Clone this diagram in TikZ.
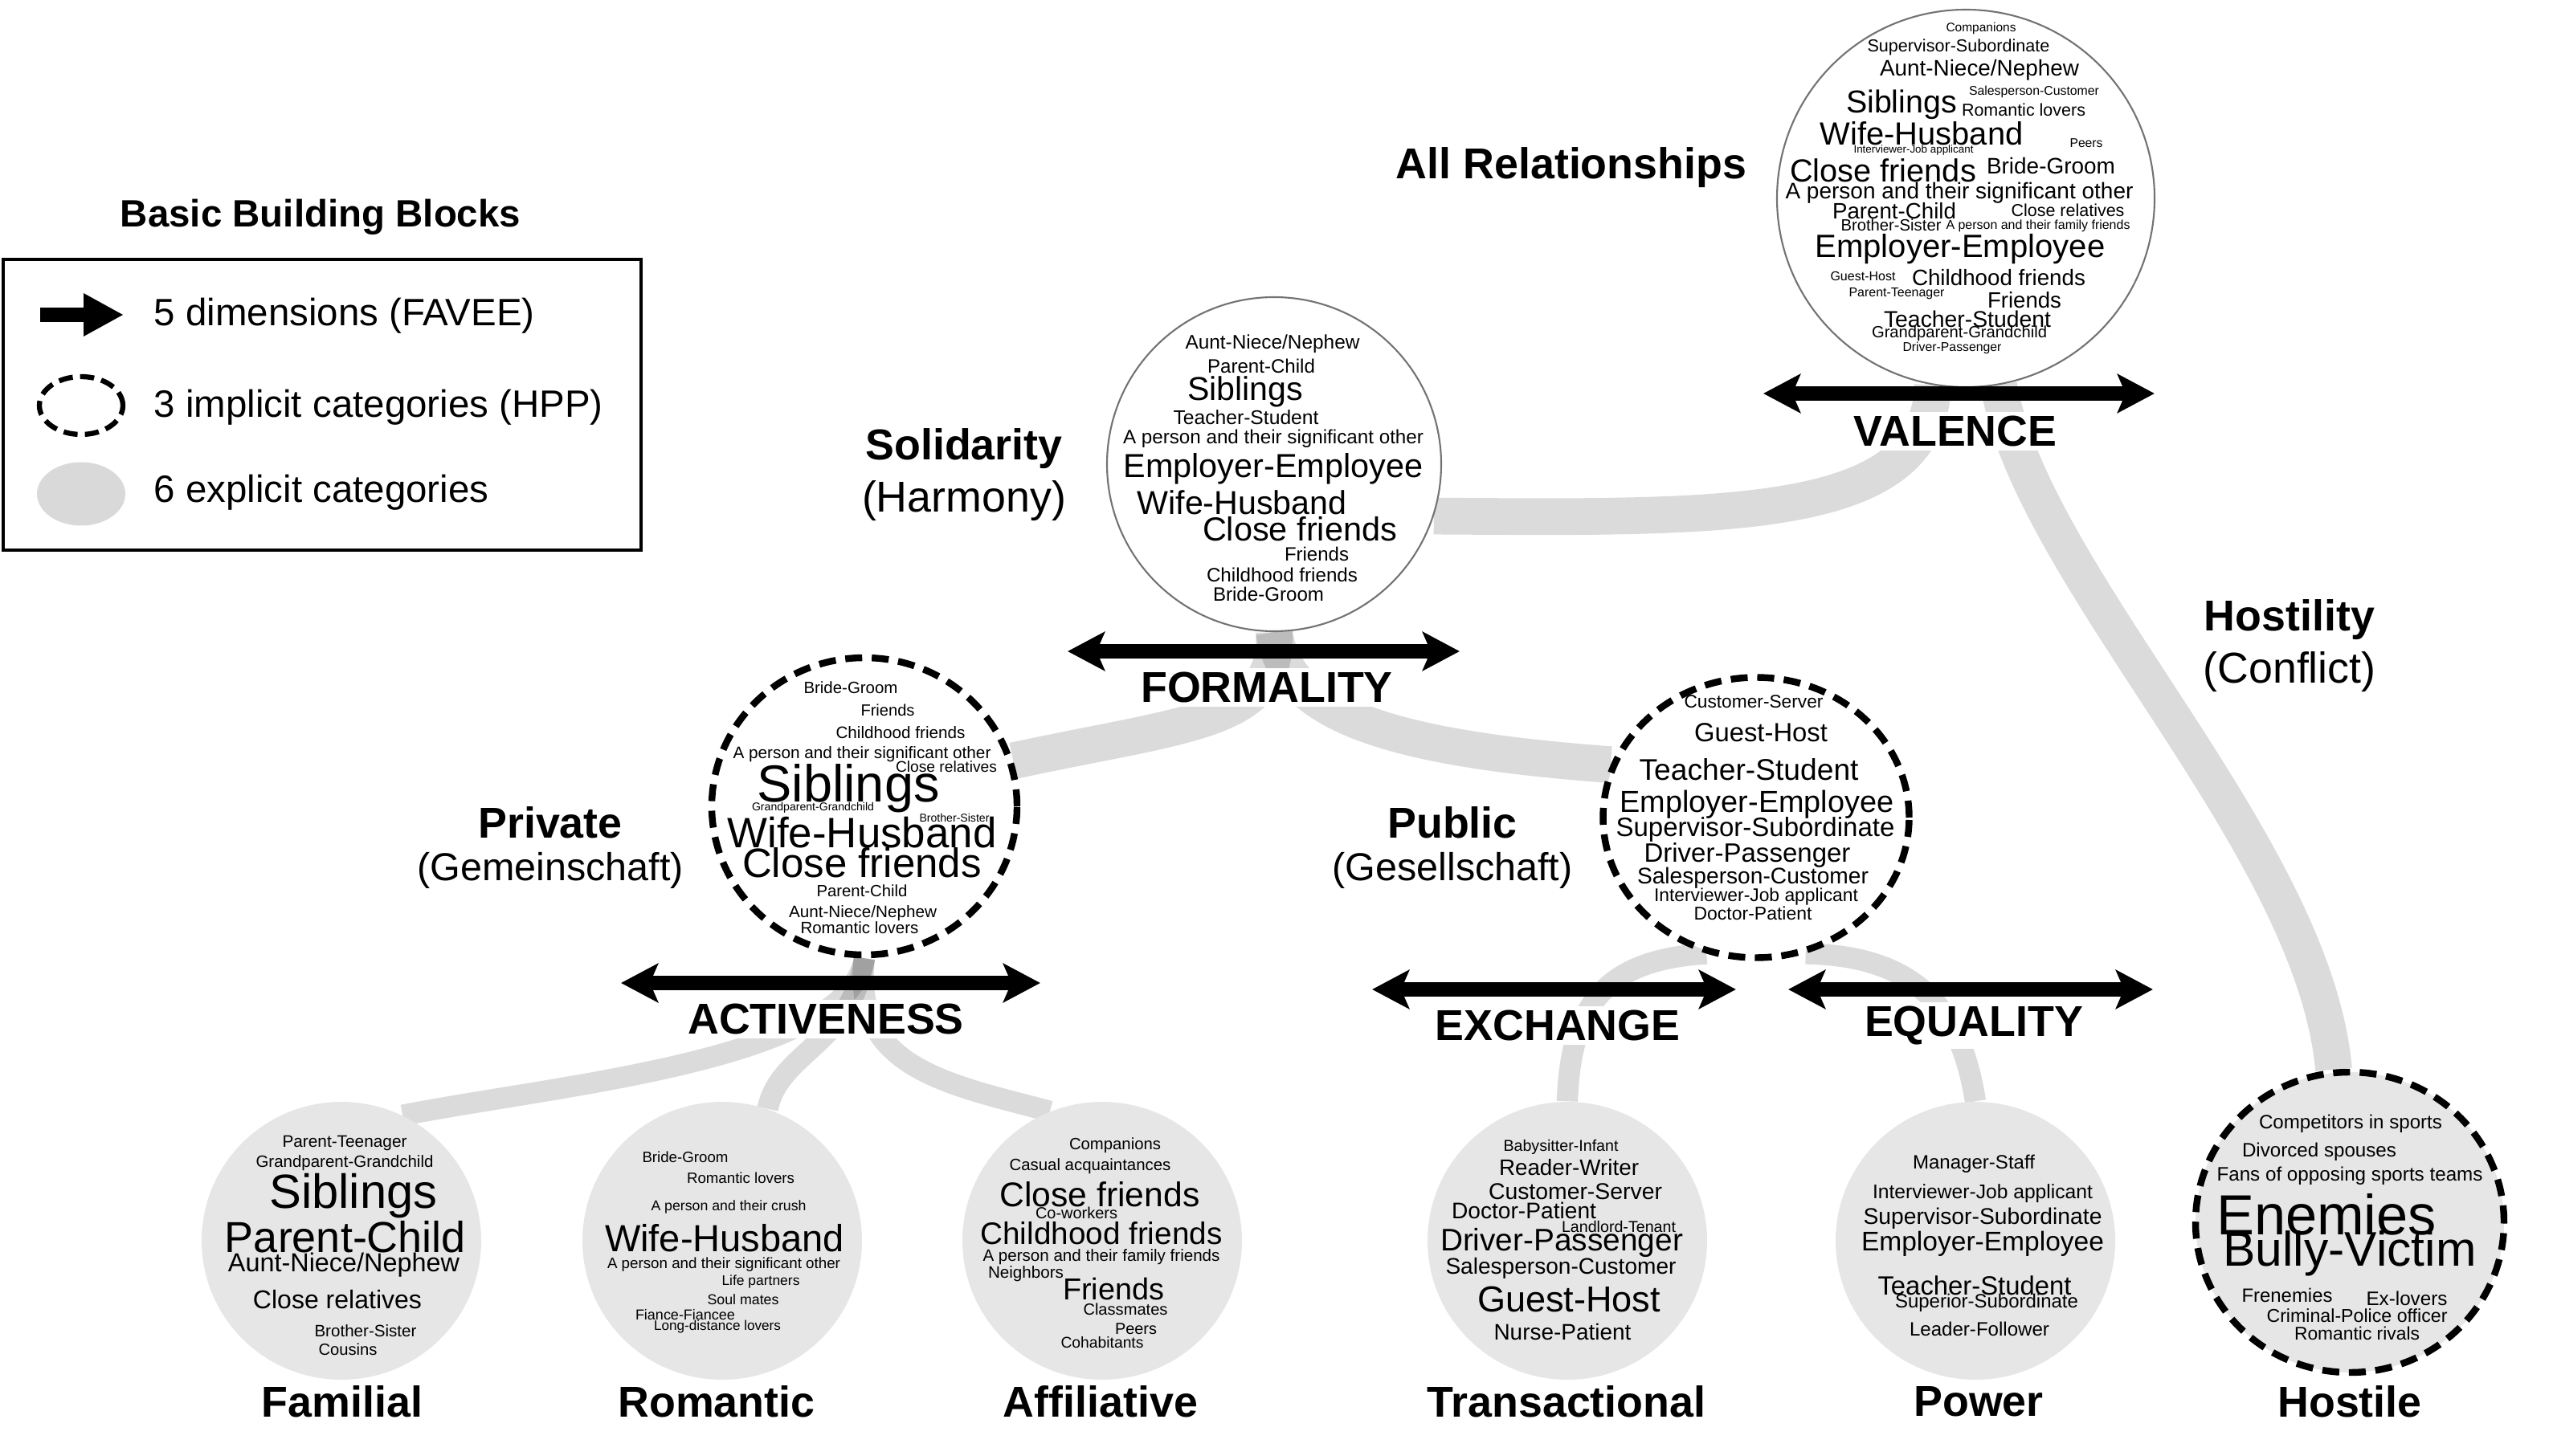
\documentclass[tikz,border=0pt]{standalone}
\usepackage{fontspec}
\setmainfont{Liberation Sans}
\usetikzlibrary{arrows.meta,shapes.geometric,backgrounds}
\definecolor{fillgray}{RGB}{230,230,230}
\definecolor{legendgray}{RGB}{217,217,217}

\begin{document}
\begin{tikzpicture}[
  band/.style={draw=black, draw opacity=0.14, line width=13pt},
  thinband/.style={band, line width=7.5pt},
  cloud/.style={circle, draw=black!55, line width=0.6pt, fill=white, inner sep=0pt},
  implicit/.style={ellipse, draw=black, line width=2.4pt, dash pattern=on 6pt off 3.4pt, fill=white, inner sep=0pt},
  explicit/.style={ellipse, fill=fillgray, inner sep=0pt, minimum width=3.48cm, minimum height=3.46cm},
  dimarrow/.style={line width=5pt, {Stealth[length=4.6mm,width=4.8mm,inset=1mm]}-{Stealth[length=4.6mm,width=4.8mm,inset=1mm]}},
  dimlabel/.style={font=\fontsize{15.3}{18}\selectfont\bfseries, fill=white, inner sep=1.5pt},
  head/.style={font=\fontsize{15.3}{18}\selectfont\bfseries},
  sub/.style={font=\fontsize{15.3}{18}\selectfont},
  legend/.style={font=\fontsize{13.5}{16}\selectfont, anchor=west, inner sep=0pt},
  word/.style={inner sep=0pt}
]
\useasboundingbox (0,0) rectangle (31.78,18.12);

% legend
\node[font=\fontsize{13.5}{16}\selectfont\bfseries] (blocks) at (3.99,15.42) {Basic Building Blocks};
\draw[line width=1pt] (0.04,11.27) rectangle (7.98,14.89);
\coordinate (lg-a) at (0.50,14.20);
\coordinate (lg-b) at (1.54,14.20);
\draw[line width=5.1pt, -{Triangle[length=5mm,width=5mm]}] (lg-a) -- (lg-b);
\node[implicit, line width=1.8pt, dash pattern=on 5pt off 2.6pt, minimum width=1.04cm, minimum height=0.72cm] (lg-implicit) at (1.01,13.07) {};
\node[ellipse, fill=legendgray, inner sep=0pt, minimum width=1.10cm, minimum height=0.79cm] (lg-explicit) at (1.01,11.97) {};
\node[legend] (lg-t1) at (1.91,14.19) {5 dimensions (FAVEE)};
\node[legend] (lg-t2) at (1.91,13.05) {3 implicit categories (HPP)};
\node[legend] (lg-t3) at (1.91,11.99) {6 explicit categories};

% categories
\node[cloud, minimum size=4.70cm] (allrel) at (24.47,15.65) {};
\node[cloud, minimum size=4.16cm] (solid) at (15.86,12.34) {};
\node[implicit, minimum width=3.80cm, minimum height=3.70cm] (priv) at (10.76,8.08) {};
\node[implicit, minimum width=3.81cm, minimum height=3.49cm] (publ) at (21.86,7.94) {};
\node[explicit] (famil) at (4.25,2.67) {};
\node[explicit] (roman) at (8.99,2.67) {};
\node[explicit] (affil) at (13.72,2.67) {};
\node[explicit] (trans) at (19.51,2.67) {};
\node[explicit] (power) at (24.59,2.67) {};
\node[implicit, fill=fillgray, minimum width=3.84cm, minimum height=3.74cm] (hostile) at (29.25,2.90) {};

% grey bands
\begin{scope}[on background layer]
\draw[band] (allrel.-100) .. controls (24.00,11.62) and (21.50,11.67) .. (solid.-18);
\draw[band] (allrel.-80) .. controls (25.30,10.92) and (28.80,7.62) .. (hostile.96);
\draw[band] (solid.south) .. controls (15.92,9.12) and (14.80,9.12) .. (priv.17);
\draw[band] (solid.south) .. controls (16.00,9.32) and (17.00,8.82) .. (publ.160);
\draw[thinband] (priv.south) .. controls (10.55,4.92) and (7.00,4.62) .. (famil.64);
\draw[thinband] (priv.south) .. controls (10.60,5.12) and (9.70,5.02) .. (roman.71);
\draw[thinband] (priv.south) .. controls (10.60,4.82) and (11.80,4.62) .. (affil.112);
\draw[thinband] (publ.250) .. controls (20.00,6.17) and (19.55,5.62) .. (trans.north);
\draw[thinband] (publ.290) .. controls (23.80,6.22) and (24.40,5.62) .. (power.north);
\end{scope}

% word clouds
\foreach \x/\y/\ww/\txt [count=\i] in {
  24.66/17.76/0.87/Companions, 24.38/17.53/2.27/Supervisor-Subordinate,
  24.64/17.25/2.48/{Aunt-Niece/Nephew}, 23.67/16.82/1.38/Siblings,
  25.32/16.98/1.62/Salesperson-Customer, 25.19/16.75/1.54/Romantic lovers,
  23.92/16.46/2.53/Wife-Husband, 25.97/16.34/0.41/Peers,
  23.82/16.25/1.49/Interviewer-Job applicant, 23.44/16.00/2.32/Close friends,
  25.53/16.05/1.60/Bride-Groom, 24.39/15.72/4.33/A person and their significant other,
  23.58/15.49/1.54/Parent-Child, 25.74/15.50/1.41/Close relatives,
  23.54/15.32/1.25/Brother-Sister, 25.37/15.31/2.29/A person and their family friends,
  24.40/15.02/3.61/Employer-Employee, 23.19/14.68/0.81/Guest-Host,
  24.88/14.66/2.16/Childhood friends, 23.61/14.46/1.19/Parent-Teenager,
  25.20/14.38/0.92/Friends, 24.49/14.15/2.08/Teacher-Student,
  24.39/13.97/2.18/Grandparent-Grandchild, 24.30/13.79/1.23/Driver-Passenger}
  \node[word] (allw\i) at (\x,\y) {\resizebox{\ww cm}{!}{\txt}};

\foreach \x/\y/\ww/\txt [count=\i] in {
  15.84/13.84/2.17/{Aunt-Niece/Nephew}, 15.70/13.56/1.34/Parent-Child,
  15.50/13.24/1.44/Siblings, 15.51/12.92/1.81/Teacher-Student,
  15.85/12.66/3.74/A person and their significant other, 15.85/12.28/3.73/Employer-Employee,
  15.46/11.86/2.61/Wife-Husband, 16.18/11.53/2.42/Close friends,
  16.39/11.22/0.80/Friends, 15.96/10.96/1.88/Childhood friends,
  15.79/10.72/1.38/Bride-Groom}
  \node[word] (solw\i) at (\x,\y) {\resizebox{\ww cm}{!}{\txt}};

\foreach \x/\y/\ww/\txt [count=\i] in {
  10.59/9.56/1.17/Bride-Groom, 11.05/9.28/0.67/Friends,
  11.21/9.00/1.61/Childhood friends, 10.73/8.73/3.21/A person and their significant other,
  11.78/8.57/1.26/Close relatives, 10.56/8.30/2.27/Siblings,
  10.12/8.06/1.52/Grandparent-Grandchild, 11.88/7.94/0.87/Brother-Sister,
  10.73/7.75/3.35/Wife-Husband, 10.73/7.38/2.98/Close friends,
  10.73/7.03/1.13/Parent-Child, 10.74/6.75/1.84/{Aunt-Niece/Nephew},
  10.70/6.57/1.47/Romantic lovers}
  \node[word] (priw\i) at (\x,\y) {\resizebox{\ww cm}{!}{\txt}};

\foreach \x/\y/\ww/\txt [count=\i] in {
  21.83/9.38/1.73/Customer-Server, 21.92/9.00/1.66/Guest-Host,
  21.77/8.54/2.73/Teacher-Student, 21.87/8.10/3.41/Employer-Employee,
  21.85/7.79/3.47/Supervisor-Subordinate, 21.75/7.47/2.57/Driver-Passenger,
  21.82/7.19/2.88/Salesperson-Customer, 21.86/6.95/2.54/Interviewer-Job applicant,
  21.82/6.75/1.47/Doctor-Patient}
  \node[word] (pubw\i) at (\x,\y) {\resizebox{\ww cm}{!}{\txt}};

\foreach \x/\y/\ww/\txt [count=\i] in {
  4.29/3.89/1.55/Parent-Teenager, 4.29/3.64/2.21/Grandparent-Grandchild,
  4.40/3.23/2.09/Siblings, 4.30/2.72/3.00/Parent-Child,
  4.28/2.37/2.88/{Aunt-Niece/Nephew}, 4.20/1.94/2.10/Close relatives,
  4.55/1.55/1.27/Brother-Sister, 4.33/1.32/0.73/Cousins}
  \node[word] (famw\i) at (\x,\y) {\resizebox{\ww cm}{!}{\txt}};

\foreach \x/\y/\ww/\txt [count=\i] in {
  8.53/3.71/1.07/Bride-Groom, 9.22/3.45/1.34/Romantic lovers,
  9.07/3.09/1.93/A person and their crush, 9.02/2.70/2.98/Wife-Husband,
  9.01/2.37/2.90/A person and their significant other, 9.47/2.16/0.97/Life partners,
  9.25/1.94/0.89/Soul mates, 8.53/1.75/1.24/Fiance-Fiancee,
  8.93/1.60/1.58/Long-distance lovers}
  \node[word] (romw\i) at (\x,\y) {\resizebox{\ww cm}{!}{\txt}};

\foreach \x/\y/\ww/\txt [count=\i] in {
  13.88/3.86/1.14/Companions, 13.57/3.60/2.01/Casual acquaintances,
  13.69/3.25/2.49/Close friends, 13.40/3.02/1.02/Co-workers,
  13.71/2.76/3.01/Childhood friends, 13.71/2.47/2.95/A person and their family friends,
  12.77/2.26/0.94/Neighbors, 13.86/2.07/1.26/Friends,
  14.01/1.82/1.05/Classmates, 14.14/1.57/0.52/Peers,
  13.72/1.40/1.03/Cohabitants}
  \node[word] (affw\i) at (\x,\y) {\resizebox{\ww cm}{!}{\txt}};

\foreach \x/\y/\ww/\txt [count=\i] in {
  19.43/3.84/1.43/Babysitter-Infant, 19.53/3.58/1.74/Reader-Writer,
  19.61/3.28/2.16/Customer-Server, 18.97/3.05/1.80/Doctor-Patient,
  20.15/2.85/1.42/Landlord-Tenant, 19.44/2.65/3.02/Driver-Passenger,
  19.43/2.33/2.87/Salesperson-Customer, 19.53/1.94/2.28/Guest-Host,
  19.45/1.54/1.71/Nurse-Patient}
  \node[word] (traw\i) at (\x,\y) {\resizebox{\ww cm}{!}{\txt}};

\foreach \x/\y/\ww/\txt [count=\i] in {
  24.57/3.63/1.52/Manager-Staff, 24.68/3.26/2.74/Interviewer-Job applicant,
  24.68/2.95/2.97/Supervisor-Subordinate, 24.68/2.63/3.02/Employer-Employee,
  24.58/2.11/2.41/Teacher-Student, 24.73/1.90/2.28/Superior-Subordinate,
  24.64/1.57/1.74/Leader-Follower}
  \node[word] (poww\i) at (\x,\y) {\resizebox{\ww cm}{!}{\txt}};

\foreach \x/\y/\ww/\txt [count=\i] in {
  29.26/4.13/2.28/Competitors in sports, 28.87/3.78/1.92/Divorced spouses,
  29.25/3.48/3.31/Fans of opposing sports teams, 28.96/3.00/2.74/Enemies,
  29.25/2.51/3.15/Bully-Victim, 28.47/1.99/1.13/Frenemies,
  29.96/1.95/1.01/Ex-lovers, 29.34/1.74/2.25/Criminal-Police officer,
  29.34/1.52/1.56/Romantic rivals}
  \node[word] (hosw\i) at (\x,\y) {\resizebox{\ww cm}{!}{\txt}};

% dimensions
\coordinate (valence-l) at (21.95,13.22);
\coordinate (valence-r) at (26.82,13.22);
\coordinate (formality-l) at (13.29,10.01);
\coordinate (formality-r) at (18.17,10.01);
\coordinate (activeness-l) at (7.73,5.88);
\coordinate (activeness-r) at (12.95,5.88);
\coordinate (exchange-l) at (17.08,5.80);
\coordinate (exchange-r) at (21.61,5.80);
\coordinate (equality-l) at (22.26,5.80);
\coordinate (equality-r) at (26.80,5.80);
\draw[dimarrow] (valence-l) -- (valence-r);
\draw[dimarrow] (formality-l) -- (formality-r);
\draw[dimarrow] (activeness-l) -- (activeness-r);
\draw[dimarrow] (exchange-l) -- (exchange-r);
\draw[dimarrow] (equality-l) -- (equality-r);
\node[dimlabel] (valence) at (24.34,12.75) {VALENCE};
\node[dimlabel] (formality) at (15.77,9.56) {FORMALITY};
\node[dimlabel] (activeness) at (10.28,5.43) {ACTIVENESS};
\node[dimlabel] (exchange) at (19.39,5.35) {EXCHANGE};
\node[dimlabel] (equality) at (24.57,5.35) {EQUALITY};

% category labels
\node[head] (all-lab) at (19.56,16.03) {All Relationships};
\node[head] (sol-lab) at (12.00,12.53) {Solidarity};
\node[sub] (sol-sub) at (12.00,11.88) {(Harmony)};
\node[head] (pri-lab) at (6.85,7.88) {Private};
\node[sub, font=\fontsize{13.8}{16}\selectfont] (pri-sub) at (6.85,7.28) {(Gemeinschaft)};
\node[head] (pub-lab) at (18.08,7.88) {Public};
\node[sub, font=\fontsize{13.8}{16}\selectfont] (pub-sub) at (18.08,7.28) {(Gesellschaft)};
\node[head] (hos-lab) at (28.50,10.40) {Hostility};
\node[sub] (hos-sub) at (28.50,9.75) {(Conflict)};
\node[head] (fam-lab) at (4.26,0.67) {Familial};
\node[head] (rom-lab) at (8.92,0.67) {Romantic};
\node[head] (aff-lab) at (13.70,0.67) {Affiliative};
\node[head] (tra-lab) at (19.50,0.67) {Transactional};
\node[head] (pow-lab) at (24.63,0.67) {Power};
\node[head] (hst-lab) at (29.25,0.67) {Hostile};
\end{tikzpicture}
\end{document}
